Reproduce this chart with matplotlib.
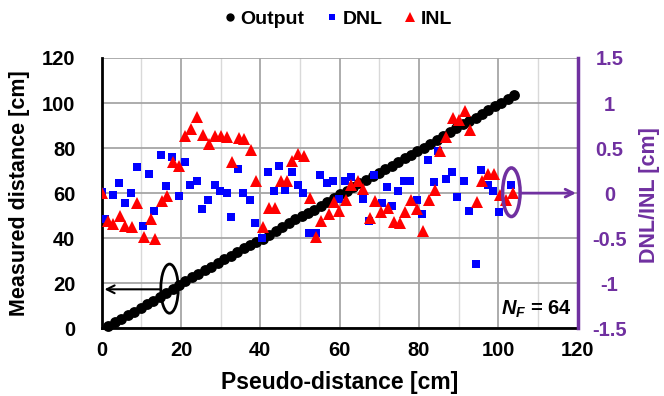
import matplotlib
matplotlib.use('Agg')
import matplotlib.pyplot as plt
from matplotlib.patches import Ellipse
from matplotlib.lines import Line2D

plt.rcParams['font.family'] = ['Liberation Sans', 'DejaVu Sans']
plt.rcParams['font.weight'] = 'bold'
plt.rcParams['mathtext.fontset'] = 'custom'
plt.rcParams['mathtext.it'] = 'Liberation Sans:italic:bold'
plt.rcParams['mathtext.rm'] = 'Liberation Sans:bold'
plt.rcParams['mathtext.bf'] = 'Liberation Sans:bold'

# ---------------- data ----------------
output_x = [1.6, 3.3, 4.9, 6.5, 8.1, 9.8, 11.4, 13.0, 14.6, 16.3, 17.9, 19.5,
            21.1, 22.8, 24.4, 26.0, 27.6, 29.3, 30.9, 32.5, 34.1, 35.8, 37.4,
            39.0, 40.6, 42.3, 43.9, 45.5, 47.1, 48.8, 50.4, 52.0, 53.6, 55.3,
            56.9, 58.5, 60.1, 61.8, 63.4, 65.0, 66.6, 68.3, 69.9, 71.5, 73.1,
            74.8, 76.4, 78.0, 79.6, 81.3, 82.9, 84.5, 86.1, 87.8, 89.4, 91.0,
            92.6, 94.3, 95.9, 97.5, 99.1, 100.8, 102.4, 104.0]
output_y = [1.0, 2.6, 4.1, 5.7, 7.3, 9.0, 10.7, 12.3, 13.9, 15.6, 17.3, 19.1,
            20.9, 22.6, 24.2, 25.8, 27.3, 29.0, 30.6, 32.1, 33.8, 35.5, 37.0,
            38.4, 39.8, 41.4, 43.1, 44.9, 46.6, 48.3, 49.9, 51.3, 52.6, 54.3,
            56.0, 57.7, 59.4, 61.1, 62.7, 64.3, 65.8, 67.5, 69.1, 70.7, 72.2,
            73.8, 75.4, 77.0, 78.6, 80.2, 81.9, 83.6, 85.4, 87.2, 88.9, 90.6,
            92.0, 93.4, 95.1, 96.8, 98.5, 100.2, 101.8, 103.4]

dnl_x = [0.0, 0.8, 2.8, 4.4, 5.8, 7.4, 8.8, 10.3, 11.9, 13.3, 15.0, 16.3, 17.6,
         19.4, 20.9, 22.2, 24.0, 25.4, 26.9, 28.5, 29.9, 31.5, 32.7, 34.4, 35.6,
         37.5, 38.7, 40.3, 41.9, 43.4, 44.8, 46.2, 47.9, 49.4, 50.7, 52.3, 54.0,
         55.0, 56.9, 58.4, 59.9, 61.3, 62.8, 66.0, 67.4, 68.7, 70.8, 71.9, 73.3,
         74.8, 76.3, 77.8, 79.4, 80.8, 82.2, 83.8, 84.9, 86.7, 88.4, 89.7, 91.3,
         92.7, 94.3, 95.6, 97.4, 98.7, 100.2, 103.2]
dnl_y = [0.01, -0.29, -0.02, 0.11, -0.11, 0.00, 0.29, -0.37, 0.21, -0.20, 0.42,
         0.08, 0.40, -0.03, 0.35, 0.09, 0.14, -0.18, -0.08, 0.09, 0.02, 0.00,
         -0.26, 0.27, 0.00, -0.08, -0.33, -0.50, 0.23, 0.02, 0.30, 0.03, 0.24,
         0.09, 0.00, -0.44, -0.44, 0.20, 0.11, 0.14, -0.07, 0.14, 0.18, -0.07,
         -0.31, 0.20, -0.11, 0.07, -0.14, 0.02, 0.13, 0.13, -0.08, -0.23, 0.37,
         0.12, 0.47, 0.16, 0.23, -0.04, 0.13, -0.20, -0.79, 0.26, 0.09, 0.02,
         -0.21, 0.09]

inl_x = [0.0, 1.5, 2.9, 4.5, 5.9, 7.6, 8.9, 10.7, 12.3, 13.5, 15.1, 16.5, 18.0,
         19.4, 21.1, 22.4, 24.1, 25.5, 27.0, 28.5, 30.0, 31.7, 32.9, 34.5, 36.0,
         37.6, 39.0, 40.7, 42.1, 43.6, 45.1, 46.6, 48.1, 49.6, 51.1, 52.4, 54.0,
         55.4, 57.2, 58.6, 59.8, 61.5, 62.9, 64.5, 66.0, 67.7, 68.9, 70.4, 72.1,
         73.7, 75.3, 76.5, 78.0, 79.4, 81.1, 82.5, 84.1, 85.4, 86.9, 88.5, 90.2,
         91.6, 92.9, 94.6, 95.9, 97.4, 99.0, 100.4, 102.0, 103.6]
inl_y = [0.00, -0.31, -0.34, -0.25, -0.37, -0.38, -0.11, -0.49, -0.29, -0.51,
         -0.09, -0.03, 0.35, 0.30, 0.63, 0.71, 0.84, 0.64, 0.55, 0.63, 0.63,
         0.62, 0.35, 0.61, 0.60, 0.48, 0.13, -0.38, -0.17, -0.16, 0.13, 0.13,
         0.36, 0.43, 0.41, -0.05, -0.49, -0.31, -0.23, -0.10, -0.20, -0.08,
         0.09, 0.14, 0.05, -0.28, -0.09, -0.21, -0.16, -0.32, -0.33, -0.21,
         -0.08, -0.18, -0.42, -0.08, 0.03, 0.47, 0.62, 0.83, 0.81, 0.91, 0.70,
         -0.10, 0.14, 0.21, 0.21, -0.02, -0.08, 0.00]

x_ticks = [0, 20, 40, 60, 80, 100, 120]
x_minor_ticks = [10, 30, 50, 70, 90, 110]
left_ticks = [0, 20, 40, 60, 80, 100, 120]
right_ticks = [-1.5, -1.0, -0.5, 0.0, 0.5, 1.0, 1.5]
right_tick_labels = ['-1.5', '-1', '-0.5', '0', '0.5', '1', '1.5']

PURPLE = '#7030A0'

fig = plt.figure(figsize=(6.64, 3.96), dpi=100)
ax = fig.add_axes([0.1532, 0.171, 0.7167, 0.6826])
ax.set_xlim(0, 120)
ax.set_ylim(0, 120)
ax.set_xticks(x_ticks)
ax.set_xticks(x_minor_ticks, minor=True)
ax.set_yticks(left_ticks)
ax.grid(which='major', color='#A6A6A6', lw=1.3, zorder=0)
ax.grid(which='minor', axis='x', color='#D9D9D9', lw=1.0, zorder=0)
ax.set_axisbelow(True)
ax.tick_params(which='both', length=0)
ax.tick_params(axis='y', pad=19, labelsize=14.5)
ax.tick_params(axis='x', pad=9, labelsize=14.5)
for lbl in ax.get_xticklabels() + ax.get_yticklabels():
    lbl.set_fontweight('bold')
ax.spines['top'].set_visible(False)
ax.spines['right'].set_visible(False)
ax.spines['left'].set_linewidth(2)
ax.spines['bottom'].set_linewidth(2)

ax.plot(output_x, output_y, 'o', color='black', ms=7.8, mew=0, zorder=3, clip_on=False)

ax.add_patch(Ellipse((17.1, 17.6), 4.4, 21.8, fill=False, ec='black', lw=2, zorder=4))
ax.annotate('', xy=(0.7, 17.3), xytext=(14.9, 17.3),
            arrowprops=dict(arrowstyle='->', color='black', lw=1.5, mutation_scale=14,
                            shrinkA=0, shrinkB=0), zorder=4)

ax.text(118.6, 8.2, r'$N_F$ = 64', ha='right', va='center', fontsize=14.5,
        fontweight='bold')

ax2 = ax.twinx()
ax2.set_ylim(-1.5, 1.5)
ax2.set_yticks(right_ticks)
ax2.set_yticklabels(right_tick_labels)
ax2.tick_params(length=0, pad=23, labelsize=14.5, labelcolor=PURPLE)
for lbl in ax2.get_yticklabels():
    lbl.set_fontweight('bold')
    lbl.set_horizontalalignment('center')
for s in ['left', 'top', 'bottom']:
    ax2.spines[s].set_visible(False)
ax2.spines['right'].set_color(PURPLE)
ax2.spines['right'].set_linewidth(2.5)

ax2.plot(dnl_x, dnl_y, 's', color='#0000FF', ms=5.5, mew=0, zorder=3)
ax2.plot(inl_x, inl_y, '^', color='#FF0000', ms=8, mew=0, zorder=3)

ax2.add_patch(Ellipse((103.3, 0.01), 4.4, 0.54, fill=False, ec=PURPLE, lw=2.5, zorder=4))
ax2.annotate('', xy=(119.6, 0.0), xytext=(105.5, 0.0),
             arrowprops=dict(arrowstyle='->', color=PURPLE, lw=2, mutation_scale=14,
                             shrinkA=0, shrinkB=0), zorder=4, annotation_clip=False)

fig.text(20 / 664, 1 - 193 / 396, 'Measured distance [cm]', rotation=90,
         ha='center', va='center', fontsize=15.5, fontweight='bold')
fig.text(650 / 664, 1 - 195 / 396, 'DNL/INL [cm]', rotation=90,
         ha='center', va='center', fontsize=15.5, fontweight='bold', color=PURPLE)
fig.text(340 / 664, 1 - 382 / 396, 'Pseudo-distance [cm]',
         ha='center', va='center', fontsize=16.5, fontweight='bold')

handles = [Line2D([], [], ls='', marker='o', color='black', ms=6, mew=0),
           Line2D([], [], ls='', marker='s', color='#0000FF', ms=5, mew=0),
           Line2D([], [], ls='', marker='^', color='#FF0000', ms=7, mew=0)]
fig.legend(handles, ['Output', 'DNL', 'INL'], loc='center', bbox_to_anchor=(337 / 664, 1 - 19 / 396),
           ncol=3, frameon=False, prop={'weight': 'bold', 'size': 14},
           handletextpad=0.15, columnspacing=1.0, handlelength=0.8,
           borderpad=0, borderaxespad=0)

fig.savefig('out.png', dpi=100)
